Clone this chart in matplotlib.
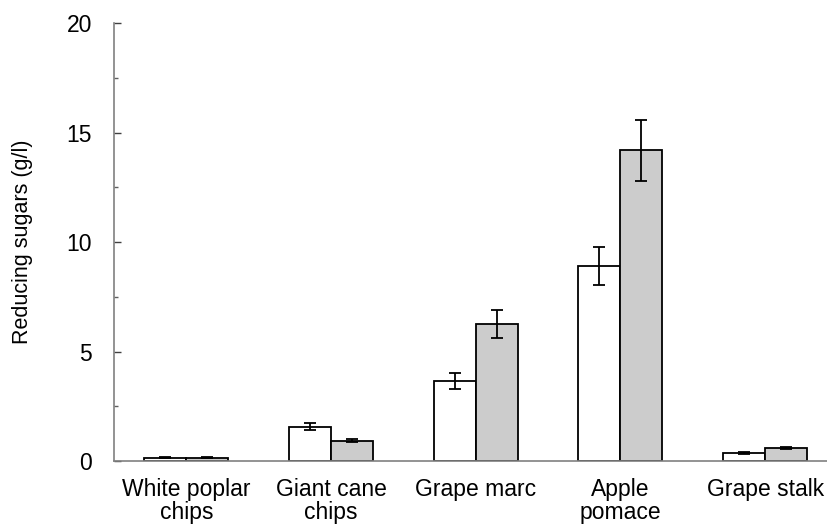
import numpy as np
import matplotlib
matplotlib.use('Agg')
import matplotlib.pyplot as plt
from matplotlib.ticker import MultipleLocator

plt.rcParams['font.family'] = ['Liberation Sans', 'DejaVu Sans']

categories = ['White poplar\nchips', 'Giant cane\nchips', 'Grape marc', 'Apple\npomace', 'Grape stalk']
white_vals = [0.15, 1.57, 3.64, 8.9, 0.37]
white_err = [0.03, 0.15, 0.37, 0.88, 0.04]
grey_vals = [0.15, 0.93, 6.25, 14.2, 0.58]
grey_err = [0.03, 0.08, 0.63, 1.4, 0.04]

fig = plt.figure(figsize=(8.28, 5.27), dpi=100)
ax = fig.add_axes([0.1377, 0.1252, 1.0 - 0.1377, 0.9558 - 0.1252])

x = np.arange(len(categories))
w = 0.29
ekw = dict(elinewidth=1.3, capthick=1.3, ecolor='black')
ax.bar(x - w/2, white_vals, w, yerr=white_err, color='white', edgecolor='black',
       linewidth=1.3, capsize=4.5, error_kw=ekw, zorder=2)
ax.bar(x + w/2, grey_vals, w, yerr=grey_err, color='#cccccc', edgecolor='black',
       linewidth=1.3, capsize=4.5, error_kw=ekw, zorder=2)

ax.set_xlim(-0.5, 4.435)
ax.set_ylim(0, 20)
ax.yaxis.set_major_locator(MultipleLocator(5))
ax.yaxis.set_minor_locator(MultipleLocator(2.5))

for s in ['top', 'right']:
    ax.spines[s].set_visible(False)
for s in ['left', 'bottom']:
    ax.spines[s].set_color('#808080')
    ax.spines[s].set_linewidth(1.2)

ax.tick_params(axis='y', which='major', direction='in', length=5, width=1.0,
               color='#404040', labelsize=16.5, pad=16)
ax.tick_params(axis='y', which='minor', direction='in', length=3, width=1.0,
               color='#606060')
ax.set_xticks(x)
ax.set_xticklabels(categories, fontsize=16.5, linespacing=1.0)
ax.tick_params(axis='x', length=0, pad=12)

ax.set_ylabel('Reducing sugars (g/l)', fontsize=15.5)
ax.yaxis.set_label_coords(-0.113, 0.5)

fig.savefig('out.png', dpi=100)
